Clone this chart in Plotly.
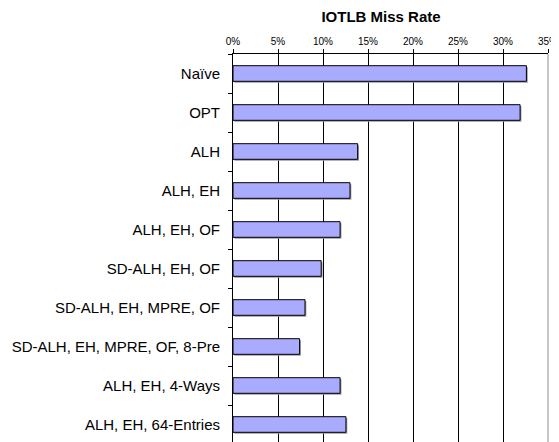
import plotly.graph_objects as go

categories = [
    "Naïve",
    "OPT",
    "ALH",
    "ALH, EH",
    "ALH, EH, OF",
    "SD-ALH, EH, OF",
    "SD-ALH, EH, MPRE, OF",
    "SD-ALH, EH, MPRE, OF, 8-Pre",
    "ALH, EH, 4-Ways",
    "ALH, EH, 64-Entries",
]
miss_rate = [32.6, 31.9, 13.85, 13.0, 11.9, 9.8, 8.0, 7.4, 11.9, 12.55]
x_ticks = [0, 5, 10, 15, 20, 25, 30, 35]
title_text = "IOTLB Miss Rate"

# page body has an 8px margin; the plot runs slightly past the bottom edge
W, H = 551, 436

fig = go.Figure()
# shadow
fig.add_trace(go.Bar(
    y=categories, x=miss_rate, base=0.15, orientation="h",
    width=0.4, offset=-0.16,
    marker=dict(color="#9a9a9a", line=dict(width=0)),
    hoverinfo="skip", showlegend=False,
))
fig.add_trace(go.Bar(
    y=categories, x=miss_rate, orientation="h",
    width=0.4, offset=-0.2,
    marker=dict(color="#a9abff", line=dict(color="black", width=1)),
    showlegend=False,
))

fig.update_layout(
    width=W, height=H,
    margin=dict(l=225, r=11, t=45.5, b=0),
    paper_bgcolor="white", plot_bgcolor="white",
    barmode="overlay",
    font=dict(family="Liberation Sans, Arial, sans-serif", color="black"),
    title=dict(text="<b>" + title_text + "</b>", x=373 / W, xanchor="center",
               y=1 - 9 / H, yanchor="middle", font=dict(size=15, color="black")),
    xaxis=dict(
        side="top", range=[0, 35], tickvals=x_ticks,
        ticktext=[f"{v}%" for v in x_ticks],
        showline=True, linecolor="black", linewidth=1,
        ticks="outside", ticklen=4, tickcolor="black",
        showgrid=True, gridcolor="black", gridwidth=1,
        zeroline=False, tickfont=dict(size=10), fixedrange=True,
        automargin=False,
    ),
    yaxis=dict(
        type="category", autorange="reversed",
        showline=True, linecolor="black", linewidth=1,
        ticks="outside", ticklen=4, tickcolor="black", tickson="boundaries",
        showgrid=False, tickfont=dict(size=15), ticklabelstandoff=9,
        automargin=False,
    ),
    shapes=[dict(type="line", xref="paper", yref="paper", x0=1, x1=1, y0=0, y1=1,
                 line=dict(color="#8c8c8c", width=1), layer="above")],
)

fig.write_html("out.html")
